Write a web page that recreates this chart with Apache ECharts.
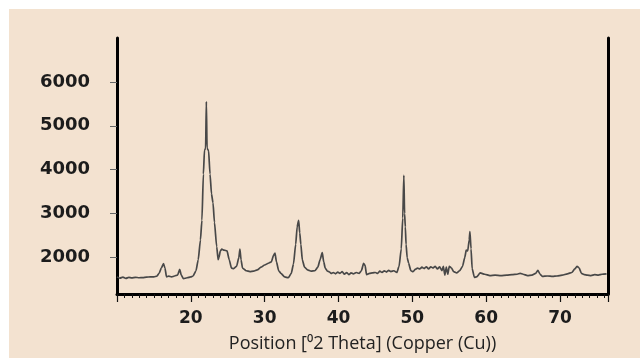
<!DOCTYPE html>
<html>
<head>
<meta charset="utf-8">
<script src="https://cdn.jsdelivr.net/npm/echarts@6/dist/echarts.min.js"></script>
<style>
    html, body { margin: 0; padding: 0; background: #ffffff; }
    #wrap { position: relative; width: 640px; height: 358px; overflow: hidden; }
    #bg { position: absolute; left: 9px; top: 9px; width: 631px; height: 349px; background: #f3e2d0; }
    #chart { position: absolute; left: 0; top: 0; width: 640px; height: 358px; }
</style>
</head>
<body>
<div id="wrap">
    <div id="bg"></div>
    <div id="chart"></div>
</div>
<script>
// 衍射角 2θ
var twoTheta = [
    10.0, 10.4, 10.8, 11.2, 11.6, 12.0, 12.5, 13.0, 13.5, 14.0, 14.5, 15.0, 15.4, 15.7, 16.0, 16.3, 16.5, 16.7,
    17.0, 17.4, 17.8, 18.2, 18.5, 18.7, 19.0, 19.5, 20.0, 20.3, 20.7, 21.0, 21.3, 21.5, 21.7, 21.85, 22.0, 22.1,
    22.2, 22.4, 22.6, 22.8, 23.0, 23.2, 23.5, 23.7, 23.8, 24.0, 24.2, 24.5, 24.9, 25.2, 25.5, 25.8, 26.2, 26.5,
    26.65, 26.8, 27.0, 27.5, 28.0, 28.5, 29.0, 29.5, 30.0, 30.5, 30.9, 31.2, 31.4, 31.6, 31.9, 32.2, 32.7, 33.2,
    33.6, 33.9, 34.2, 34.4, 34.6, 34.75, 34.9, 35.1, 35.4, 35.8, 36.3, 36.8, 37.2, 37.5, 37.8, 38.0, 38.2, 38.5,
    38.8, 39.0, 39.3, 39.6, 39.9, 40.2, 40.5, 40.8, 41.1, 41.4, 41.7, 42.0, 42.4, 42.8, 43.1, 43.4, 43.6, 43.8,
    44.2, 44.6, 45.0, 45.3, 45.6, 45.9, 46.2, 46.5, 46.8, 47.1, 47.5, 47.9, 48.2, 48.5, 48.7, 48.85, 48.95, 49.05,
    49.15, 49.3, 49.5, 49.8, 50.1, 50.4, 50.7, 51.0, 51.3, 51.6, 51.9, 52.2, 52.5, 52.8, 53.1, 53.4, 53.7, 54.0,
    54.2, 54.4, 54.6, 54.8, 55.0, 55.3, 55.6, 56.0, 56.4, 56.8, 57.1, 57.3, 57.5, 57.7, 57.8, 57.95, 58.1, 58.4,
    58.7, 59.2, 59.8, 60.5, 61.2, 62.0, 62.8, 63.5, 64.2, 64.6, 65.0, 65.6, 66.2, 66.7, 67.0, 67.3, 67.6, 68.3,
    69.0, 69.6, 70.3, 71.0, 71.6, 72.0, 72.3, 72.6, 72.9, 73.3, 73.7, 74.2, 74.7, 75.2, 75.7, 76.3
];
// 强度
var intensity = [
    1560, 1530, 1555, 1525, 1550, 1535, 1550, 1540, 1545, 1555, 1560, 1560, 1575, 1640, 1760, 1860, 1760, 1560,
    1575, 1560, 1580, 1600, 1730, 1600, 1520, 1540, 1560, 1580, 1700, 1950, 2400, 2850, 3900, 4450, 4480, 5550,
    4480, 4440, 3900, 3450, 3250, 2800, 2250, 1950, 2000, 2150, 2190, 2170, 2150, 1950, 1760, 1750, 1800, 2000,
    2190, 1950, 1760, 1700, 1680, 1690, 1720, 1780, 1830, 1870, 1900, 2050, 2100, 1900, 1700, 1640, 1560, 1540,
    1640, 1850, 2300, 2700, 2850, 2560, 2300, 1950, 1780, 1720, 1690, 1700, 1780, 1950, 2110, 1900, 1760, 1690,
    1670, 1640, 1660, 1630, 1670, 1640, 1680, 1620, 1660, 1610, 1650, 1630, 1660, 1640, 1700, 1870, 1820, 1610,
    1640, 1650, 1660, 1640, 1690, 1660, 1700, 1670, 1710, 1680, 1700, 1660, 1800, 2200, 2900, 3870, 3000, 2700,
    2300, 2000, 1870, 1700, 1680, 1730, 1760, 1740, 1780, 1750, 1790, 1740, 1790, 1760, 1800, 1740, 1790, 1700,
    1800, 1600, 1780, 1620, 1800, 1760, 1680, 1650, 1700, 1800, 2000, 2170, 2150, 2400, 2590, 2200, 1750, 1550,
    1560, 1650, 1620, 1590, 1600, 1590, 1600, 1610, 1620, 1640, 1620, 1590, 1600, 1640, 1710, 1620, 1570, 1580,
    1570, 1580, 1600, 1630, 1660, 1740, 1800, 1760, 1640, 1610, 1600, 1590, 1610, 1600, 1620, 1630
];
var yTicks = [2000, 3000, 4000, 5000, 6000];
var xTicks = [20, 30, 40, 50, 60, 70];

var seriesData = [];
for (var i = 0; i < twoTheta.length; i++) {
    seriesData.push([twoTheta[i], intensity[i]]);
}

var myChart = echarts.init(document.getElementById('chart'));
var labelFont = 'DejaVu Sans';

var option = {
    backgroundColor: 'transparent',
    animation: false,
    grid: {
        left: 117,
        right: 32,
        top: 38,
        bottom: 60
    },
    xAxis: [{
        // 小刻度
        type: 'value',
        min: 10,
        max: 76.5,
        interval: 1,
        axisLine: { show: true, lineStyle: { color: '#000', width: 3 } },
        axisTick: { show: true, length: 4, lineStyle: { color: '#111', width: 1 } },
        axisLabel: { show: false },
        splitLine: { show: false }
    }, {
        // 大刻度 + 标签
        type: 'value',
        position: 'bottom',
        min: 10,
        max: 76.5,
        interval: 10,
        axisLine: { show: false },
        axisTick: { show: true, length: 8, lineStyle: { color: '#111', width: 1.2 } },
        axisLabel: {
            margin: 16,
            color: '#1c1c1c',
            fontFamily: labelFont,
            fontWeight: 'bold',
            fontSize: 17,
            formatter: function (v) {
                return xTicks.indexOf(v) >= 0 ? String(v) : '';
            }
        },
        splitLine: { show: false },
        name: 'Position [\u20702 Theta] (Copper (Cu))',
        nameLocation: 'middle',
        nameGap: 41,
        nameTextStyle: {
            color: '#222',
            fontFamily: 'Open Sans',
            fontSize: 18
        }
    }],
    yAxis: [{
        type: 'value',
        min: 1170,
        max: 7000,
        axisLine: { show: true, lineStyle: { color: '#000', width: 3 } },
        axisTick: { show: true, length: 7, customValues: yTicks, lineStyle: { color: '#666', width: 1 } },
        axisLabel: {
            customValues: yTicks,
            margin: 27,
            color: '#1c1c1c',
            fontFamily: labelFont,
            fontWeight: 'bold',
            fontSize: 18,
            formatter: function (v) {
                return String(v);
            }
        },
        splitLine: { show: false }
    }, {
        type: 'value',
        position: 'right',
        min: 1170,
        max: 7000,
        axisLine: { show: true, lineStyle: { color: '#000', width: 3 } },
        axisTick: { show: false },
        axisLabel: { show: false },
        splitLine: { show: false }
    }],
    series: [{
        type: 'line',
        xAxisIndex: 0,
        yAxisIndex: 0,
        data: seriesData,
        showSymbol: false,
        smooth: 0.2,
        smoothMonotone: 'x',
        lineStyle: { color: '#484848', width: 1.7 }
    }]
};
myChart.setOption(option);
</script>
</body>
</html>
